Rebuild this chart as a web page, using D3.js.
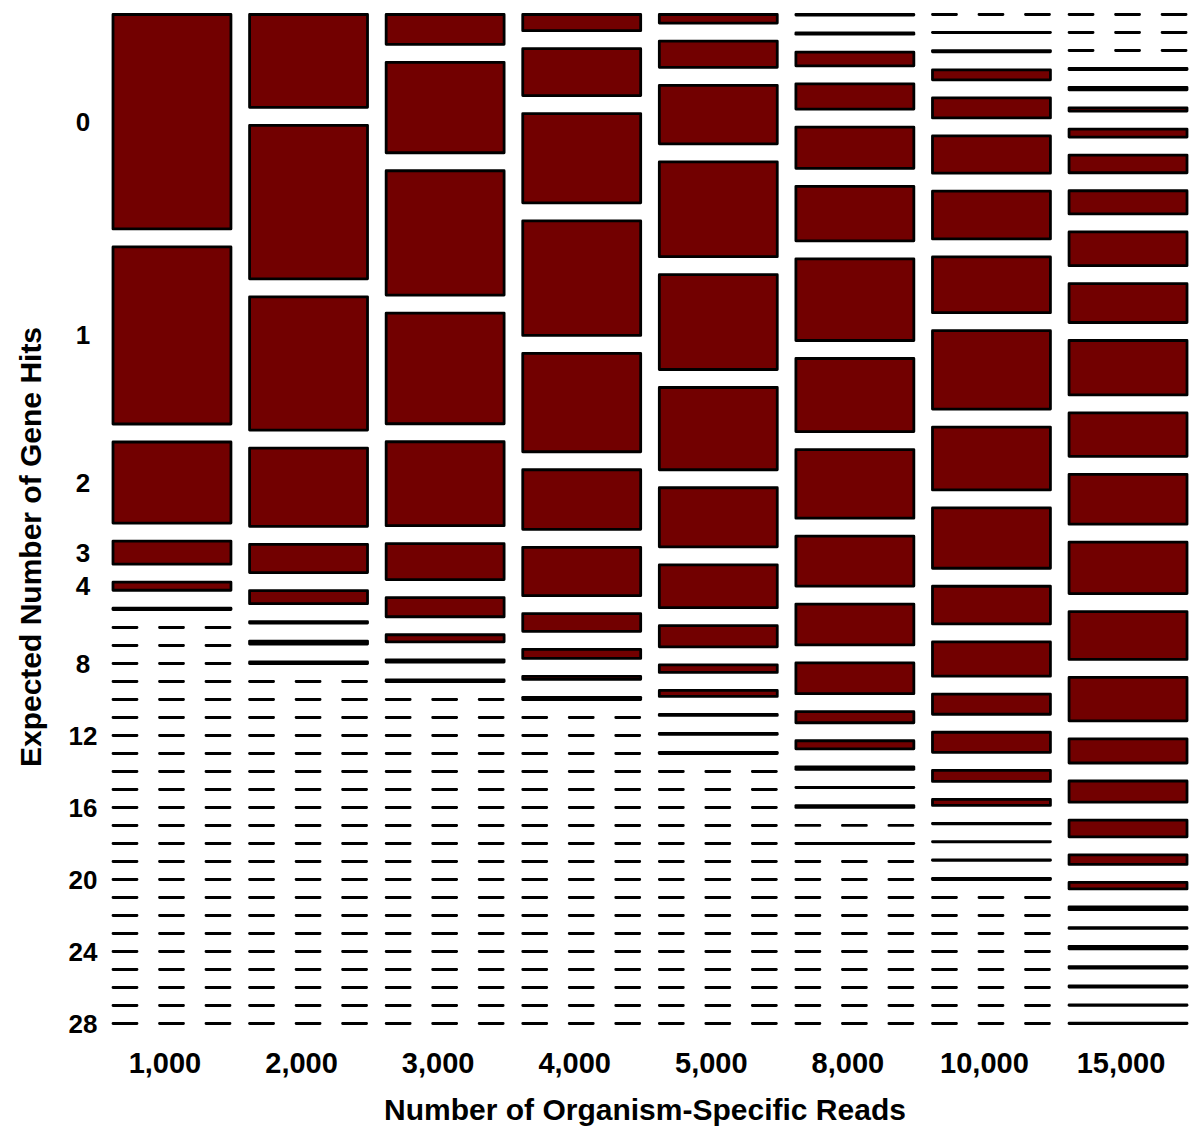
<!DOCTYPE html>
<html>
<head>
<meta charset="utf-8">
<script src="https://cdn.jsdelivr.net/npm/d3@7"></script>
<style>
  body { margin: 0; background: #fff; }
  text { font-family: "Liberation Sans", Arial, sans-serif; font-weight: bold; fill: #000; }
</style>
</head>
<body>
<svg id="chart" width="1200" height="1131"></svg>
<script>
// Columns: number of organism-specific reads
const readCounts = ["1,000", "2,000", "3,000", "4,000", "5,000", "8,000", "10,000", "15,000"];
// Rows: number of gene hits (0..28)
const hitCounts = [0,1,2,3,4,5,6,7,8,9,10,11,12,13,14,15,16,17,18,19,20,21,22,23,24,25,26,27,28];

// Percentage of simulations with each number of gene hits
const reads1000  = [42.6,35.2,16.1,4.6,1.6,0.25,0,0,0,0,0,0,0,0,0,0,0,0,0,0,0,0,0,0,0,0,0,0,0];
const reads2000  = [18.4,30.4,26.4,15.5,5.6,2.6,0.28,0.57,0.3,0,0,0,0,0,0,0,0,0,0,0,0,0,0,0,0,0,0,0,0];
const reads3000  = [5.9,17.9,24.6,21.9,16.6,7.1,3.8,1.4,0.43,0.3,0,0,0,0,0,0,0,0,0,0,0,0,0,0,0,0,0,0,0];
const reads4000  = [3.2,9.3,17.7,22.7,19.5,11.8,9.6,3.5,1.8,0.57,0.43,0,0,0,0,0,0,0,0,0,0,0,0,0,0,0,0,0,0];
const reads5000  = [1.7,5.2,11.6,18.8,18.8,16.3,11.7,8.5,4.2,1.5,1.2,0.18,0.18,0.24,0,0,0,0,0,0,0,0,0,0,0,0,0,0,0];
const reads8000  = [0.1,0.24,2.7,5.0,8.2,10.8,16.2,14.5,13.6,9.9,8.1,6.1,2.2,1.6,0.5,0.04,0.38,0,0.01,0,0,0,0,0,0,0,0,0,0];
const reads10000 = [0,0.02,0.24,2.0,4.0,7.4,9.5,11.1,15.6,12.5,12.0,7.5,6.8,4.0,4.0,2.2,1.2,0.06,0.01,0.1,0.24,0,0,0,0,0,0,0,0];
const reads15000 = [0,0,0,0.2,0.45,0.65,1.6,3.5,4.6,6.7,7.7,10.8,8.6,9.9,10.2,9.5,8.6,4.8,4.2,3.3,1.9,1.3,0.55,0.15,0.45,0.25,0.2,0.05,0.05];

const seriesValues = [reads1000, reads2000, reads3000, reads4000, reads5000, reads8000, reads10000, reads15000];

// Tick labels shown on the vertical axis (positioned on the first column)
const yTickLabels = [0, 1, 2, 3, 4, 8, 12, 16, 20, 24, 28];

const xTitle = "Number of Organism-Specific Reads";
const yTitle = "Expected Number of Gene Hits";

// ---------- layout ----------
const svg = d3.select("#chart");
const plotTop = 14.5, plotBottom = 1023.5, rowGap = 18;
const fillColor = "#720000";
const strokeW = 2.8;

const x = d3.scaleBand()
  .domain(readCounts)
  .range([113, 1187])
  .paddingInner(0.1365)
  .paddingOuter(0);

const usable = (plotBottom - plotTop) - rowGap * (hitCounts.length - 1);

// compute cell layout for each column (mosaic: each column sums to 100%)
const columns = readCounts.map((rc, ci) => {
  const vals = seriesValues[ci];
  const total = d3.sum(vals);
  const yS = d3.scaleLinear().domain([0, total]).range([0, usable]);
  const cum = [0, ...d3.cumsum(vals)];
  const cells = hitCounts.map((h, k) => ({
    read: rc, hit: h, value: vals[k],
    y: plotTop + yS(cum[k]) + k * rowGap,
    h: yS(vals[k])
  }));
  return { read: rc, cells };
});

const g = svg.append("g");

columns.forEach(col => {
  const x0 = x(col.read), w = x.bandwidth();
  const cg = g.append("g");
  // non-empty cells as rectangles
  cg.selectAll("rect")
    .data(col.cells.filter(c => c.value > 0))
    .join("rect")
    .attr("x", x0)
    .attr("y", c => c.y)
    .attr("width", w)
    .attr("height", c => c.h)
    .attr("fill", fillColor)
    .attr("stroke", "#000")
    .attr("stroke-width", strokeW)
    .attr("stroke-linejoin", "round");
  // empty cells as dashed lines
  cg.selectAll("line")
    .data(col.cells.filter(c => c.value === 0))
    .join("line")
    .attr("x1", x0)
    .attr("x2", x0 + w)
    .attr("y1", c => c.y)
    .attr("y2", c => c.y)
    .attr("stroke", "#000")
    .attr("stroke-width", strokeW)
    .attr("stroke-linecap", "round")
    .attr("stroke-dasharray", "24 22.5");
});

// y tick labels at centres of first-column cells
const firstCells = columns[0].cells;
g.append("g").selectAll("text")
  .data(yTickLabels)
  .join("text")
  .attr("x", 83)
  .attr("y", d => { const c = firstCells[hitCounts.indexOf(d)]; return c.y + c.h / 2; })
  .attr("text-anchor", "middle")
  .attr("dominant-baseline", "central")
  .attr("font-size", 26)
  .text(d => String(d));

// x tick labels
g.append("g").selectAll("text")
  .data(readCounts)
  .join("text")
  .attr("x", d => x(d) + x.bandwidth() / 2 - 7)
  .attr("y", 1073)
  .attr("text-anchor", "middle")
  .attr("font-size", 29)
  .text(d => d);

// axis titles
svg.append("text")
  .attr("x", 645)
  .attr("y", 1120)
  .attr("text-anchor", "middle")
  .attr("font-size", 30)
  .text(xTitle);

svg.append("text")
  .attr("transform", "translate(41,547) rotate(-90)")
  .attr("text-anchor", "middle")
  .attr("font-size", 30)
  .text(yTitle);
</script>
</body>
</html>
